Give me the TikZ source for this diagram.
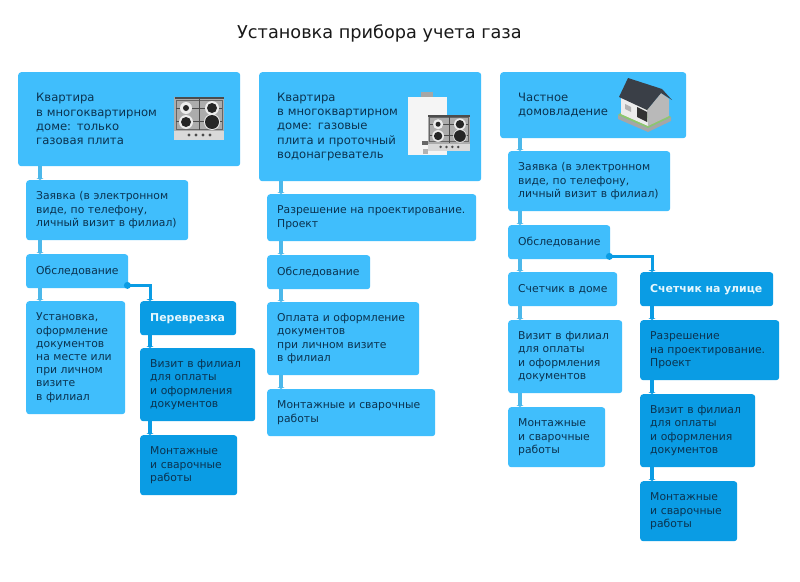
\documentclass[tikz,border=0pt]{standalone}
\usepackage{fontspec}
\setmainfont{DejaVu Sans}
\usetikzlibrary{arrows.meta}

\definecolor{lightblue}{HTML}{40BEFC}
\definecolor{darkblue}{HTML}{0A9CE4}
\definecolor{linkblue}{HTML}{4CB8EA}
\definecolor{textblue}{HTML}{0B3350}
\definecolor{roofgray}{HTML}{3A3F47}
\definecolor{lawngreen}{HTML}{8FC66E}

\tikzset{
  hob/.pic={
    \fill[gray!65!white] (0,0) rectangle (50,34);
    \fill[gray!30!white] (0,34) rectangle (50,43);
    \draw[black!70, line width=1.5pt] (0.5,1) -- (49.5,1);
    \draw[black!60, line width=1pt] (2,3) rectangle (48,32);
    \draw[black!70, line width=1pt] (25,2) -- (25,33) (2,11) -- (48,11) (2,24) -- (48,24);
    \fill[white!85!gray] (12,11) circle (6pt) (12,25) circle (7pt) (38,11) circle (7pt) (38,25) circle (8pt);
    \fill[black!85] (12,11) circle (3pt) (12,25) circle (5pt) (38,11) circle (5pt) (38,25) circle (7pt);
    \foreach \k in {15,22,29,36} \fill[black!70] (\k,38) circle (1.6pt);
  }
}

\begin{document}
\begin{tikzpicture}[x=1pt, y=-1pt]

    \tikzstyle{lbox} = [fill=lightblue, rounded corners=3pt, anchor=north west,
        text=textblue, font=\fontsize{10.8}{13.2}\selectfont, align=left,
        inner xsep=10pt, inner ysep=0pt]
    \tikzstyle{dbox} = [lbox, fill=darkblue]
    \tikzstyle{head} = [lbox, font=\fontsize{11.6}{14.3}\selectfont, inner xsep=18pt]
    \tikzstyle{strong} = [dbox, text=white!90!cyan, font=\fontsize{10.9}{13.2}\selectfont\bfseries]
    \tikzstyle{link} = [arrows={-Latex[length=2pt,width=8pt]}, draw=linkblue, line width=4pt]
    \tikzstyle{dlink} = [link, draw=darkblue, line width=3.5pt]
    \tikzstyle{branch} = [dlink, line width=3pt, rounded corners=0pt]
    \tikzstyle{dot} = [circle, fill=darkblue, inner sep=0pt, minimum size=7pt]

    \useasboundingbox (0,0) rectangle (800,581);
    \fill[white] (0,0) rectangle (800,581);

    \node[font=\fontsize{17.7}{20}\selectfont, text=black!90, anchor=west, inner sep=0pt] (title) at (237,33)
        {Установка прибора учета газа};

    % Columns of the links
    \coordinate (x1) at (40,0);
    \coordinate (x1d) at (150,0);
    \coordinate (x2) at (281,0);
    \coordinate (x3) at (520,0);
    \coordinate (x3d) at (652,0);

    % First column
    \node[head, text width=186pt, minimum height=94pt] (a1) at (18,72)
        {Квартира\\в многоквартирном\\доме: только\\газовая плита};
    \node[lbox, text width=142pt, minimum height=60pt] (a2) at (26,180)
        {Заявка (в электронном\\виде, по телефону,\\личный визит в филиал)};
    \node[lbox, text width=82pt, minimum height=34pt] (a3) at (26,254) {Обследование};
    \node[lbox, text width=79pt, minimum height=113pt] (a4) at (26,301)
        {Установка,\\оформление\\документов\\на месте или\\при личном\\визите\\в филиал};
    \node[strong, text width=76pt, minimum height=34pt] (a5) at (140,301) {Переврезка};
    \node[dbox, text width=95pt, minimum height=73pt] (a6) at (140,348)
        {Визит в филиал\\для оплаты\\и оформления\\документов};
    \node[dbox, text width=77pt, minimum height=60pt] (a7) at (140,435)
        {Монтажные\\и сварочные\\работы};

    \draw[link] (a1.south -| x1) -- (a2.north -| x1);
    \draw[link] (a2.south -| x1) -- (a3.north -| x1);
    \draw[link] (a3.south -| x1) -- (a4.north -| x1);
    \node[dot] (d1) at ([xshift=-1pt,yshift=3pt]a3.south east) {};
    \draw[branch] (d1.center) -| (a5.north -| x1d);
    \draw[dlink] (a5.south -| x1d) -- (a6.north -| x1d);
    \draw[dlink] (a6.south -| x1d) -- (a7.north -| x1d);

    % Second column
    \node[head, text width=186pt, minimum height=109pt] (b1) at (259,72)
        {Квартира\\в многоквартирном\\доме: газовые\\плита и проточный\\водонагреватель};
    \node[lbox, text width=189pt, minimum height=47pt] (b2) at (267,194)
        {Разрешение на проектирование.\\Проект};
    \node[lbox, text width=83pt, minimum height=34pt] (b3) at (267,255) {Обследование};
    \node[lbox, text width=132pt, minimum height=73pt] (b4) at (267,302)
        {Оплата и оформление\\документов\\при личном визите\\в филиал};
    \node[lbox, text width=148pt, minimum height=47pt] (b5) at (267,389)
        {Монтажные и сварочные\\работы};

    \draw[link] (b1.south -| x2) -- (b2.north -| x2);
    \draw[link] (b2.south -| x2) -- (b3.north -| x2);
    \draw[link] (b3.south -| x2) -- (b4.north -| x2);
    \draw[link] (b4.south -| x2) -- (b5.north -| x2);

    % Third column
    \node[head, text width=150pt, minimum height=66pt] (c1) at (500,72)
        {Частное\\домовладение};
    \node[lbox, text width=142pt, minimum height=60pt] (c2) at (508,151)
        {Заявка (в электронном\\виде, по телефону,\\личный визит в филиал)};
    \node[lbox, text width=82pt, minimum height=34pt] (c3) at (508,225) {Обследование};
    \node[lbox, text width=89pt, minimum height=34pt] (c4) at (508,272) {\mbox{Счетчик в доме}};
    \node[strong, text width=113pt, minimum height=34pt] (c5) at (640,272) {\mbox{Счетчик на улице}};
    \node[lbox, text width=94pt, minimum height=73pt] (c6) at (508,320)
        {Визит в филиал\\для оплаты\\и оформления\\документов};
    \node[lbox, text width=77pt, minimum height=60pt] (c7) at (508,407)
        {Монтажные\\и сварочные\\работы};
    \node[dbox, text width=119pt, minimum height=60pt] (c8) at (640,320)
        {Разрешение\\на проектирование.\\Проект};
    \node[dbox, text width=95pt, minimum height=73pt] (c9) at (640,394)
        {Визит в филиал\\для оплаты\\и оформления\\документов};
    \node[dbox, text width=77pt, minimum height=60pt] (c10) at (640,481)
        {Монтажные\\и сварочные\\работы};

    \draw[link] (c1.south -| x3) -- (c2.north -| x3);
    \draw[link] (c2.south -| x3) -- (c3.north -| x3);
    \draw[link] (c3.south -| x3) -- (c4.north -| x3);
    \draw[link] (c4.south -| x3) -- (c6.north -| x3);
    \draw[link] (c6.south -| x3) -- (c7.north -| x3);
    \node[dot] (d2) at ([xshift=-1pt,yshift=3pt]c3.south east) {};
    \draw[branch] (d2.center) -| (c5.north -| x3d);
    \draw[dlink] (c5.south -| x3d) -- (c8.north -| x3d);
    \draw[dlink] (c8.south -| x3d) -- (c9.north -| x3d);
    \draw[dlink] (c9.south -| x3d) -- (c10.north -| x3d);

    % Hob of the first column
    \pic at (174,97) {hob};

    % Boiler and hob of the second column
    \fill[gray!70] (421,92) rectangle (433,98);
    \fill[gray!8] (408,97) rectangle (447,155);
    \fill[black!60] (422,141) rectangle (432,145);
    \fill[gray!60] (423,149) rectangle (428,154);
    \pic[scale=0.84] at (428,115) {hob};

    % House
    \fill[gray!70] (618,119) -- (648,132) -- (671,121) -- (671,117) -- (648,128) -- (618,115) -- cycle;
    \fill[lawngreen] (618,115) -- (648,128) -- (671,117) -- (660,110) -- (630,105) -- cycle;
    \fill[gray!15] (621,97) -- (647,110) -- (648,126) -- (621,114) -- cycle;
    \fill[gray!55] (647,110) -- (661,93) -- (669,99) -- (669,116) -- (648,126) -- cycle;
    \fill[black!80] (637,107) -- (647,112) -- (647,122) -- (637,117) -- cycle;
    \fill[gray!60] (625,104) -- (631,107) -- (631,112) -- (625,109) -- cycle;
    \fill[roofgray] (619,97) -- (628,78) -- (662,89) -- (672,100) -- (661,93) -- (647,110) -- cycle;

\end{tikzpicture}
\end{document}
